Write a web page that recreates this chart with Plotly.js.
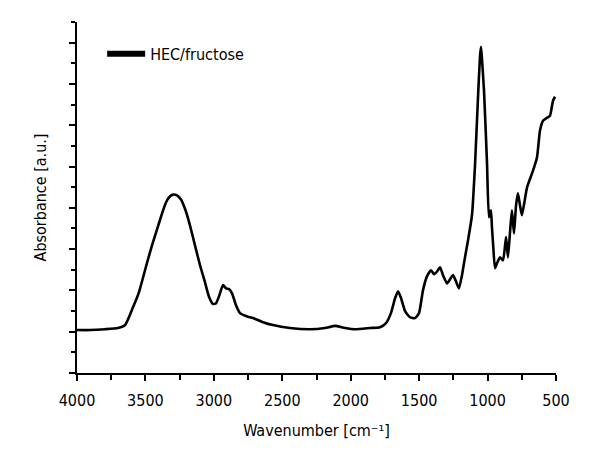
<!DOCTYPE html>
<html>
<head>
<meta charset="utf-8">
<script src="https://cdn.plot.ly/plotly-3.0.1.min.js"></script>
<style>
  body { margin: 0; background: #fff; }
  #chart { width: 600px; height: 460px; }
</style>
</head>
<body>
<div id="chart"></div>
<script>
// FTIR spectrum
const wavenumber = [
    4000, 3905, 3795, 3700, 3649, 3591, 3547, 3489, 3452, 3415,
    3379, 3350, 3320, 3299, 3269, 3240, 3204, 3174, 3138, 3101,
    3065, 3035, 3006, 2984, 2962, 2933, 2911, 2889, 2867, 2838,
    2809, 2765, 2714, 2641, 2568, 2444, 2297, 2188, 2115, 2042,
    1969, 1859, 1786, 1742, 1706, 1676, 1654, 1632, 1603, 1567,
    1530, 1501, 1472, 1443, 1413, 1391, 1369, 1347, 1326, 1296,
    1274, 1252, 1231, 1209, 1187, 1165, 1143, 1114, 1092, 1070,
    1055, 1048, 1041, 1026, 1004, 990, 975, 968, 960, 946,
    931, 909, 887, 865, 851, 836, 822, 807, 792, 778,
    763, 749, 712, 668, 639, 617, 595, 566, 544, 522, 507
];
const absorbance = [
    1.04, 1.04, 1.06, 1.09, 1.16, 1.59, 1.96, 2.66, 3.09, 3.48,
    3.86, 4.13, 4.28, 4.32, 4.30, 4.20, 3.91, 3.57, 3.09, 2.61,
    2.20, 1.84, 1.67, 1.69, 1.86, 2.13, 2.05, 2.03, 1.93, 1.64,
    1.45, 1.38, 1.33, 1.23, 1.16, 1.09, 1.06, 1.09, 1.14, 1.09,
    1.06, 1.09, 1.11, 1.21, 1.45, 1.81, 1.98, 1.81, 1.50, 1.35,
    1.33, 1.45, 2.00, 2.34, 2.49, 2.39, 2.46, 2.56, 2.37, 2.17,
    2.27, 2.37, 2.22, 2.05, 2.37, 2.80, 3.21, 3.82, 5.02, 6.67,
    7.68, 7.90, 7.61, 6.84, 5.07, 3.77, 3.94, 3.53, 3.14, 2.54,
    2.66, 2.80, 2.73, 3.29, 2.80, 3.41, 3.94, 3.38, 4.06, 4.35,
    4.06, 3.82, 4.49, 4.90, 5.22, 5.87, 6.11, 6.18, 6.23, 6.59, 6.69
];
const series_name = "HEC/fructose";
const x_ticks = [4000, 3500, 3000, 2500, 2000, 1500, 1000, 500];

const FONT = "Liberation Sans Narrow, DejaVu Sans Condensed, Arial Narrow, sans-serif";

const traces = [
    {
        x: wavenumber,
        y: absorbance,
        type: "scatter",
        mode: "lines",
        line: { color: "#000", width: 2.6, shape: "spline", smoothing: 0.5 },
        showlegend: false,
        hoverinfo: "x+y",
    },
    {
        // legend entry only, drawn with a thicker stroke like the original
        x: [null],
        y: [null],
        type: "scatter",
        mode: "lines",
        name: series_name,
        line: { color: "#000", width: 6 },
    },
];

const layout = {
    width: 600,
    height: 460,
    margin: { l: 77, r: 44, t: 22, b: 87 },
    paper_bgcolor: "#fff",
    plot_bgcolor: "#fff",
    font: { family: FONT, size: 16, color: "#000" },
    showlegend: true,
    legend: {
        x: 0.0525,
        y: 0.958,
        xanchor: "left",
        yanchor: "top",
        itemwidth: 38,
        bgcolor: "rgba(0,0,0,0)",
        font: { family: FONT, size: 16, color: "#000" },
    },
    xaxis: {
        range: [4000, 500],
        tickvals: x_ticks,
        ticks: "outside",
        ticklen: 6,
        tickwidth: 2,
        tickcolor: "#000",
        ticklabelstandoff: 6,
        minor: { dtick: 250, ticks: "outside", ticklen: 5, tickwidth: 2, tickcolor: "#000" },
        showline: true,
        linewidth: 2,
        linecolor: "#000",
        showgrid: false,
        zeroline: false,
        tickfont: { family: FONT, size: 16, color: "#000" },
        title: { text: "Wavenumber [cm⁻¹]", font: { family: FONT, size: 16, color: "#000" }, standoff: 16 },
    },
    yaxis: {
        range: [0, 8.5],
        dtick: 1,
        showticklabels: false,
        ticks: "outside",
        ticklen: 6,
        tickwidth: 2,
        tickcolor: "#000",
        minor: { dtick: 0.5, ticks: "outside", ticklen: 4, tickwidth: 2, tickcolor: "#000" },
        showline: true,
        linewidth: 2,
        linecolor: "#000",
        showgrid: false,
        zeroline: false,
        title: { text: "Absorbance [a.u.]", font: { family: FONT, size: 16, color: "#000" }, standoff: 18 },
    },
};

Plotly.newPlot("chart", traces, layout, { displayModeBar: false, staticPlot: true });
</script>
</body>
</html>
